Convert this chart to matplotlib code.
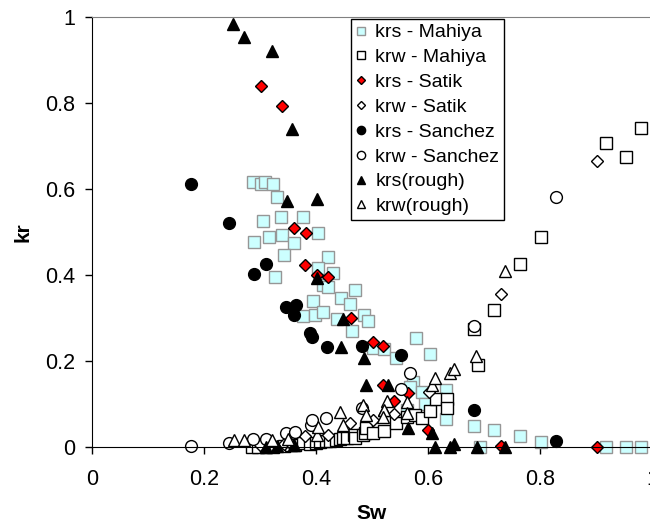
import numpy as np
import matplotlib
matplotlib.use("Agg")
import matplotlib.pyplot as plt

plt.rcParams['font.family'] = ['Liberation Sans', 'DejaVu Sans']

# krs - Mahiya
krs_mahiya_sw = [0.288, 0.301, 0.309, 0.323, 0.330, 0.305, 0.337, 0.377, 0.404, 0.316, 0.339, 0.290,
                 0.361, 0.343, 0.422, 0.327, 0.404, 0.430, 0.413, 0.422, 0.444, 0.470, 0.460, 0.395,
                 0.376, 0.399, 0.413, 0.437, 0.485, 0.492, 0.464, 0.501, 0.522, 0.543, 0.579, 0.604,
                 0.574, 0.568, 0.589, 0.595, 0.562, 0.633, 0.633, 0.683, 0.717, 0.764, 0.801, 0.692,
                 0.917, 0.954, 0.980]
krs_mahiya_kr = [0.617, 0.611, 0.616, 0.611, 0.582, 0.526, 0.536, 0.536, 0.498, 0.489, 0.493, 0.476,
                 0.474, 0.447, 0.441, 0.395, 0.416, 0.404, 0.377, 0.371, 0.346, 0.365, 0.332, 0.340,
                 0.305, 0.307, 0.313, 0.297, 0.307, 0.294, 0.270, 0.231, 0.228, 0.206, 0.253, 0.217,
                 0.152, 0.140, 0.127, 0.101, 0.086, 0.133, 0.065, 0.050, 0.040, 0.026, 0.012, 0.0,
                 0.0, 0.0, 0.0]

# krw - Mahiya
krw_mahiya_sw = [0.285, 0.297, 0.310, 0.324, 0.342, 0.355, 0.362, 0.377, 0.390, 0.400, 0.407, 0.418,
                 0.425, 0.435, 0.442, 0.449, 0.455, 0.467, 0.470, 0.484, 0.487, 0.490, 0.501, 0.521,
                 0.543, 0.562, 0.577, 0.589, 0.604, 0.615, 0.634, 0.634, 0.683, 0.690, 0.717, 0.764,
                 0.801, 0.918, 0.953, 0.980]
krw_mahiya_kr = [0.0, 0.0, 0.0, 0.0, 0.002, 0.004, 0.005, 0.009, 0.008, 0.010, 0.012, 0.013,
                 0.015, 0.017, 0.018, 0.020, 0.022, 0.028, 0.020, 0.028, 0.032, 0.044, 0.032, 0.038,
                 0.055, 0.070, 0.074, 0.068, 0.084, 0.111, 0.111, 0.090, 0.274, 0.190, 0.318, 0.425,
                 0.489, 0.708, 0.674, 0.743]

# krs - Satik
krs_satik_sw = [0.301, 0.340, 0.361, 0.382, 0.381, 0.401, 0.422, 0.462, 0.501, 0.520, 0.519, 0.565,
                0.540, 0.600, 0.730, 0.901]
krs_satik_kr = [0.839, 0.793, 0.509, 0.498, 0.424, 0.399, 0.395, 0.299, 0.244, 0.236, 0.145, 0.125,
                0.108, 0.040, 0.002, 0.0]

# krw - Satik
krw_satik_sw = [0.300, 0.342, 0.352, 0.381, 0.422, 0.461, 0.502, 0.540, 0.601, 0.730, 0.901]
krw_satik_kr = [0.004, 0.006, 0.012, 0.026, 0.028, 0.055, 0.062, 0.077, 0.127, 0.356, 0.664]

# krs - Sanchez
krs_sanchez_sw = [0.177, 0.245, 0.311, 0.289, 0.346, 0.364, 0.360, 0.390, 0.393, 0.419, 0.482, 0.552,
                  0.683, 0.829]
krs_sanchez_kr = [0.612, 0.520, 0.425, 0.403, 0.326, 0.330, 0.306, 0.264, 0.255, 0.233, 0.236, 0.215,
                  0.087, 0.013]

# krw - Sanchez
krw_sanchez_sw = [0.177, 0.245, 0.288, 0.310, 0.347, 0.362, 0.391, 0.392, 0.418, 0.483, 0.552, 0.568,
                  0.683, 0.829]
krw_sanchez_kr = [0.002, 0.009, 0.018, 0.018, 0.033, 0.036, 0.052, 0.063, 0.068, 0.090, 0.136, 0.173,
                  0.282, 0.582]

# krs(rough)
krs_rough_sw = [0.252, 0.272, 0.321, 0.357, 0.349, 0.401, 0.402, 0.449, 0.445, 0.486, 0.489, 0.529,
                0.521, 0.564, 0.608, 0.612, 0.640, 0.646, 0.687, 0.737, 0.310, 0.330, 0.360]
krs_rough_kr = [0.984, 0.953, 0.921, 0.740, 0.572, 0.577, 0.392, 0.298, 0.232, 0.208, 0.145, 0.145,
                0.087, 0.045, 0.032, 0.0, 0.0, 0.007, 0.0, 0.0, 0.0, 0.003, 0.004]

# krw(rough)
krw_rough_sw = [0.254, 0.272, 0.321, 0.350, 0.401, 0.403, 0.443, 0.449, 0.484, 0.489, 0.526, 0.521,
                0.520, 0.562, 0.562, 0.608, 0.612, 0.640, 0.646, 0.686, 0.737]
krw_rough_kr = [0.016, 0.016, 0.017, 0.019, 0.028, 0.047, 0.081, 0.052, 0.098, 0.075, 0.107, 0.086,
                0.070, 0.105, 0.080, 0.145, 0.160, 0.171, 0.181, 0.212, 0.410]

series = [
    (krs_mahiya_sw, krs_mahiya_kr, 'krs - Mahiya', 's', '#CCFFFF', '#969696', 8),
    (krw_mahiya_sw, krw_mahiya_kr, 'krw - Mahiya', 's', 'white', 'black', 8),
    (krs_satik_sw, krs_satik_kr, 'krs - Satik', 'D', 'red', 'black', 6.5),
    (krw_satik_sw, krw_satik_kr, 'krw - Satik', 'D', 'white', 'black', 6.5),
    (krs_sanchez_sw, krs_sanchez_kr, 'krs - Sanchez', 'o', 'black', 'black', 8.5),
    (krw_sanchez_sw, krw_sanchez_kr, 'krw - Sanchez', 'o', 'white', 'black', 8.5),
    (krs_rough_sw, krs_rough_kr, 'krs(rough)', '^', 'black', 'black', 8.5),
    (krw_rough_sw, krw_rough_kr, 'krw(rough)', '^', 'white', 'black', 8.5),
]

fig = plt.figure(figsize=(6.5, 5.29), dpi=100)
ax = fig.add_axes([92/650, 82/529, 560/650, 430/529])

for sw, kr, lab, mk, fc, ec, ms in series:
    ax.plot(sw, kr, linestyle='none', marker=mk, markersize=ms, markerfacecolor=fc,
            markeredgecolor=ec, markeredgewidth=1.0, label=lab, clip_on=False)

ax.set_xlim(0, 1)
ax.set_ylim(0, 1)
ticks = [0, 0.2, 0.4, 0.6, 0.8, 1]
tick_labels = ['0', '0.2', '0.4', '0.6', '0.8', '1']
ax.set_xticks(ticks)
ax.set_xticklabels(tick_labels)
ax.set_yticks(ticks)
ax.set_yticklabels(tick_labels)
ax.tick_params(axis='both', direction='out', length=5, width=1, labelsize=15.5)
ax.tick_params(axis='x', pad=11)
ax.tick_params(axis='y', pad=7)

ax.spines['top'].set_color('#808080')
ax.spines['right'].set_visible(False)
for s in ['left', 'bottom']:
    ax.spines[s].set_color('black')

ax.set_xlabel('Sw', fontsize=15, fontweight='bold', labelpad=10)
ax.set_ylabel('kr', fontsize=15, fontweight='bold', labelpad=9)

leg = ax.legend(loc='upper left', bbox_to_anchor=((351-92)/560, (447-19)/430),
                fontsize=14, markerscale=0.7, handlelength=0.5, handletextpad=0.5,
                borderpad=0.25, labelspacing=0.37, fancybox=False, framealpha=1,
                edgecolor='black', borderaxespad=0)
leg.get_frame().set_linewidth(1.0)

fig.savefig('out.png', dpi=100)
